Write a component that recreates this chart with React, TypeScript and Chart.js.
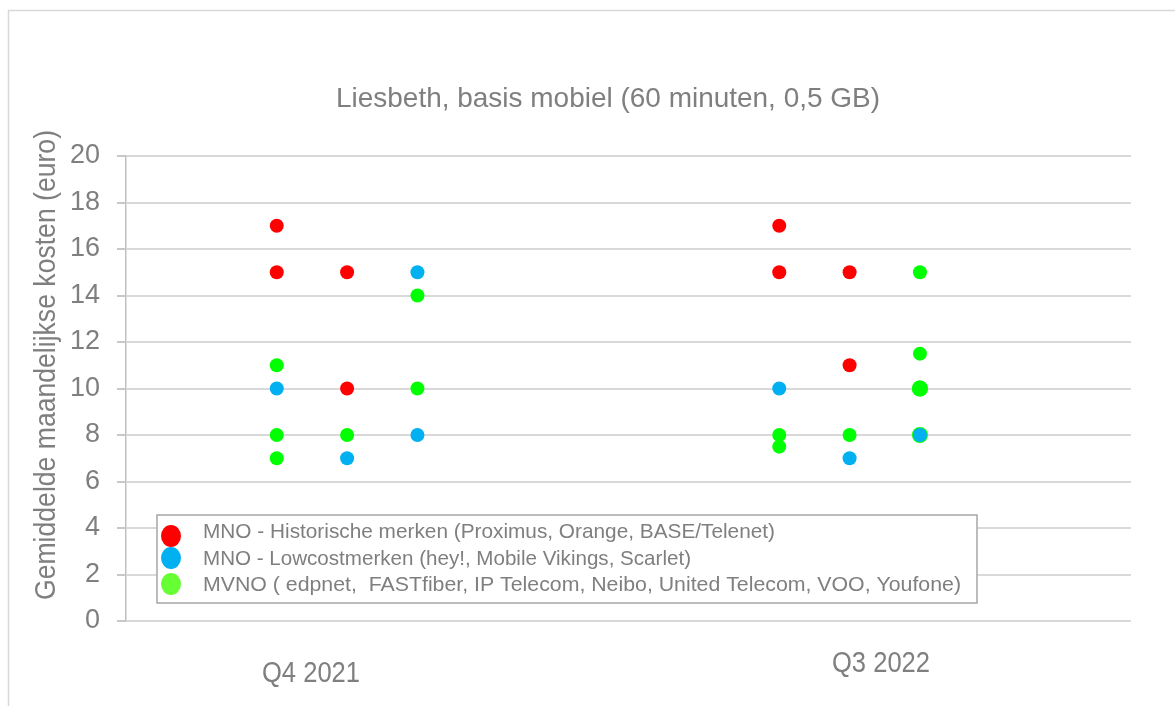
import React, { useEffect, useRef } from "react";
import { Chart, registerables } from "chart.js";

Chart.register(...registerables);

// ---- Data ----
const chartTitle = "Liesbeth, basis mobiel (60 minuten, 0,5 GB)";
const yAxisTitle = "Gemiddelde maandelijkse kosten (euro)";
const categories = ["Q4 2021", "Q3 2022"];
// x position of each column of points (three columns per period)
const columnX = [1.5, 2.2, 2.9, 6.5, 7.2, 7.9];

const seriesNames = [
  "MNO - Historische merken (Proximus, Orange, BASE/Telenet)",
  "MNO - Lowcostmerken (hey!, Mobile Vikings, Scarlet)",
  "MVNO ( edpnet,  FASTfiber, IP Telecom, Neibo, United Telecom, VOO, Youfone)",
];

const historischeCol = [0, 0, 1, 1, 3, 3, 4, 4];
const historischeVal = [17, 15, 15, 10, 17, 15, 15, 11];

const lowcostCol = [0, 1, 2, 2, 3, 4, 5];
const lowcostVal = [10, 7, 15, 8, 10, 7, 8];

const mvnoCol = [0, 0, 0, 1, 2, 2, 3, 3, 4, 5, 5, 5, 5, 5];
const mvnoVal = [11, 8, 7, 8, 14, 10, 8, 7.5, 8, 15, 11.5, 10, 10, 8];

const yTicks = [0, 2, 4, 6, 8, 10, 12, 14, 16, 18, 20];

const seriesColors = ["#ff0000", "#00b0f0", "#00ff00"];
const legendColors = ["#ff0000", "#00b0f0", "#66ff33"];

const toPoints = (cols: number[], vals: number[]) =>
  cols.map((c, i) => ({ x: columnX[c], y: vals[i] }));

const allPoints = [
  ...toPoints(historischeCol, historischeVal),
  ...toPoints(lowcostCol, lowcostVal),
  ...toPoints(mvnoCol, mvnoVal),
];
// points that share their position with another point look slightly bigger
const overlapRadius = (p: { x: number; y: number }) =>
  allPoints.filter((q) => q.x === p.x && q.y === p.y).length > 1 ? 8 : 7;

const FONT = "'Liberation Sans', Arial, sans-serif";
const TEXT = "#7f7f7f";

function fitText(
  ctx: CanvasRenderingContext2D,
  text: string,
  x: number,
  y: number,
  size: number,
  width: number,
  rotate = 0
) {
  ctx.save();
  ctx.font = `${size}px ${FONT}`;
  const w = ctx.measureText(text).width;
  ctx.translate(x, y);
  if (rotate) ctx.rotate(rotate);
  ctx.scale(width / w, 1);
  ctx.textAlign = "left";
  ctx.textBaseline = "alphabetic";
  ctx.fillStyle = TEXT;
  ctx.fillText(text, 0, 0);
  ctx.restore();
}

const decorPlugin = {
  id: "decor",
  beforeDraw(chart: any) {
    const ctx = chart.ctx as CanvasRenderingContext2D;
    ctx.save();
    ctx.fillStyle = "#ffffff";
    ctx.fillRect(0, 0, chart.width, chart.height);
    ctx.strokeStyle = "#d9d9d9";
    ctx.lineWidth = 1.5;
    ctx.beginPath();
    ctx.moveTo(8.5, chart.height + 2);
    ctx.lineTo(8.5, 10.5);
    ctx.lineTo(chart.width + 2, 10.5);
    ctx.stroke();
    ctx.restore();
    fitText(ctx, chartTitle, 336, 107, 28, 544);
    fitText(ctx, yAxisTitle, 55, 600, 29, 470, -Math.PI / 2);
    fitText(ctx, categories[0], 262, 682, 29, 98);
    fitText(ctx, categories[1], 832, 672, 29, 98);
  },
  afterDraw(chart: any) {
    const ctx = chart.ctx as CanvasRenderingContext2D;
    ctx.save();
    ctx.fillStyle = "#ffffff";
    ctx.fillRect(157, 515, 820, 88);
    ctx.strokeStyle = "#a6a6a6";
    ctx.lineWidth = 1.5;
    ctx.strokeRect(157, 515, 820, 88);
    const ys = [536, 558, 584];
    const bases = [538, 565, 591];
    const widths = [572, 488, 758];
    seriesNames.forEach((name, i) => {
      ctx.fillStyle = legendColors[i];
      ctx.beginPath();
      ctx.ellipse(171, ys[i], 10, 11, 0, 0, Math.PI * 2);
      ctx.fill();
      fitText(ctx, name, 203, bases[i], 21, widths[i]);
    });
    ctx.restore();
  },
};

export default function App() {
  const ref = useRef<HTMLCanvasElement | null>(null);

  useEffect(() => {
    document.body.style.margin = "0";
    const canvas = ref.current;
    if (!canvas) return;
    const chart = new Chart(canvas, {
      type: "scatter",
      data: {
        datasets: [
          { label: seriesNames[0], data: toPoints(historischeCol, historischeVal), backgroundColor: seriesColors[0], borderColor: seriesColors[0] },
          { label: seriesNames[1], data: toPoints(lowcostCol, lowcostVal), backgroundColor: seriesColors[1], borderColor: seriesColors[1] },
          {
            label: seriesNames[2],
            data: toPoints(mvnoCol, mvnoVal),
            backgroundColor: seriesColors[2],
            borderColor: seriesColors[2],
            pointRadius: (c: any) => overlapRadius(c.raw),
          },
        ],
      },
      options: {
        responsive: false,
        animation: false,
        layout: { padding: { left: 0, right: 44, top: 156, bottom: 85 } },
        elements: { point: { radius: 7, borderWidth: 0, hoverRadius: 7 } },
        plugins: {
          legend: { display: false },
          title: { display: false },
          tooltip: { enabled: false },
        },
        scales: {
          x: { type: "linear", min: 0, max: 10, display: false },
          y: {
            type: "linear",
            min: 0,
            max: 20,
            afterFit: (scale: any) => {
              scale.width = 126;
            },
            afterBuildTicks: (scale: any) => {
              scale.ticks = yTicks.map((v) => ({ value: v }));
            },
            ticks: {
              color: TEXT,
              font: { family: FONT, size: 27 },
              padding: 17,
            },
            grid: { color: "#d9d9d9", lineWidth: 2, tickLength: 9, tickColor: "#c8c8c8" },
            border: { color: "#c0c0c0", width: 1.5 },
          },
        },
      },
      plugins: [decorPlugin],
    });
    return () => chart.destroy();
  }, []);

  return <canvas ref={ref} width={1175} height={706} style={{ display: "block" }} />;
}
